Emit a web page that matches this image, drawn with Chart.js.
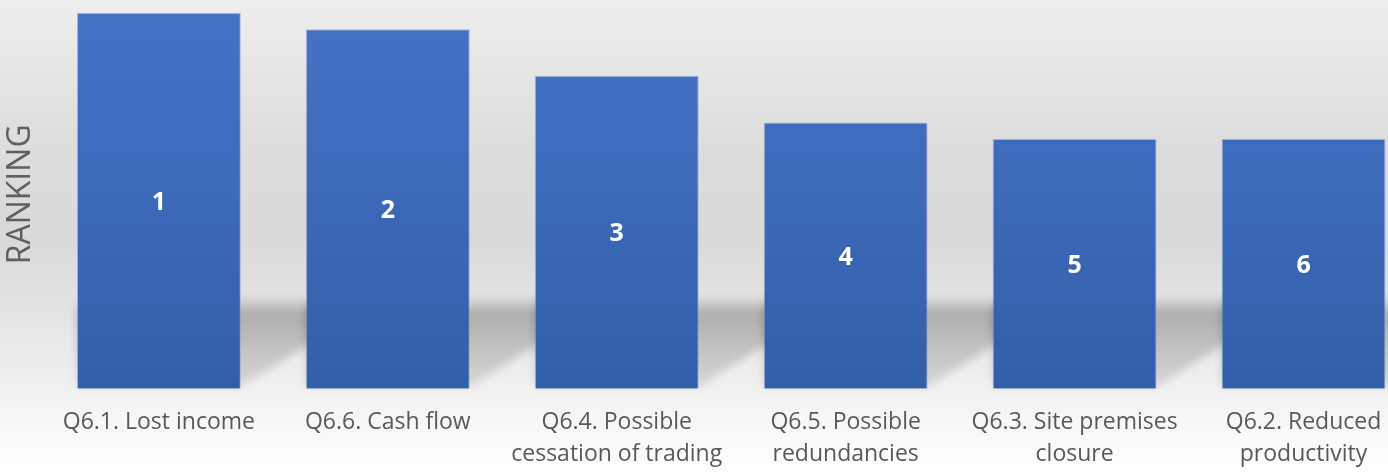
<!DOCTYPE html>
<html>
<head>
<meta charset="utf-8">
<script src="https://cdn.jsdelivr.net/npm/chart.js@4"></script>
<style>
  html, body { margin: 0; padding: 0; overflow: hidden; background: #fff; }
  #wrap { width: 1430px; height: 488px; }
</style>
</head>
<body>
<div id="wrap"><canvas id="rank"></canvas></div>
<script>
const categories = [
  ['Q6.1. Lost income'],
  ['Q6.6. Cash flow'],
  ['Q6.4. Possible', 'cessation of trading'],
  ['Q6.5. Possible', 'redundancies'],
  ['Q6.3. Site premises', 'closure'],
  ['Q6.2. Reduced', 'productivity']
];
const scores = [3.87, 3.70, 3.22, 2.74, 2.57, 2.57];
const ranks = ['1', '2', '3', '4', '5', '6'];

// grey studio backdrop
const backdrop = {
  id: 'backdrop',
  beforeDraw(chart) {
    const { ctx, width } = chart;
    const h = 475;
    const g = ctx.createLinearGradient(0, 0, 0, h);
    g.addColorStop(0, '#eeeeee');
    g.addColorStop(0.3, '#dddddd');
    g.addColorStop(0.5, '#d9d9d9');
    g.addColorStop(0.65, '#e3e3e3');
    g.addColorStop(0.85, '#f4f4f4');
    g.addColorStop(1, '#ffffff');
    ctx.save();
    ctx.fillStyle = g;
    ctx.fillRect(0, 0, width, chart.height);
    ctx.restore();
  }
};

// soft shadow each bar throws to the right
const barShadow = {
  id: 'barShadow',
  beforeDatasetsDraw(chart) {
    const { ctx } = chart;
    const meta = chart.getDatasetMeta(0);
    ctx.save();
    ctx.filter = 'blur(4px)';
    meta.data.forEach(bar => {
      const half = bar.width / 2;
      const left = bar.x - half, right = bar.x + half, base = bar.base;
      const g = ctx.createLinearGradient(0, base - 92, 0, base);
      g.addColorStop(0, 'rgba(0,0,0,0)');
      g.addColorStop(0.18, 'rgba(0,0,0,0.24)');
      g.addColorStop(0.5, 'rgba(0,0,0,0.18)');
      g.addColorStop(1, 'rgba(0,0,0,0.1)');
      ctx.fillStyle = g;
      ctx.beginPath();
      ctx.moveTo(left, base - 92);
      ctx.lineTo(right + 80, base - 92);
      ctx.lineTo(right + 80, base - 52);
      ctx.lineTo(right, base - 2);
      ctx.lineTo(left, base - 2);
      ctx.closePath();
      ctx.fill();
    });
    ctx.restore();
  }
};

// rank number in the middle of each bar
const rankLabels = {
  id: 'rankLabels',
  afterDatasetsDraw(chart) {
    const { ctx } = chart;
    ctx.save();
    ctx.fillStyle = '#ffffff';
    ctx.font = 'bold 25px "Open Sans", sans-serif';
    ctx.textAlign = 'center';
    ctx.textBaseline = 'middle';
    chart.getDatasetMeta(0).data.forEach((bar, i) => {
      ctx.fillText(ranks[i], bar.x, (bar.y + bar.base) / 2 + 2);
    });
    ctx.restore();
  }
};

new Chart(document.getElementById('rank'), {
  type: 'bar',
  data: {
    labels: categories,
    datasets: [{
      data: scores,
      backgroundColor(c) {
        const area = c.chart.chartArea;
        if (!area) return '#4472c4';
        const g = c.chart.ctx.createLinearGradient(0, area.top, 0, area.bottom);
        g.addColorStop(0, '#4574c7');
        g.addColorStop(1, '#335ea9');
        return g;
      },
      borderColor: 'rgba(120,150,210,0.6)',
      borderWidth: 1,
      barPercentage: 0.716,
      categoryPercentage: 1
    }]
  },
  options: {
    responsive: true,
    maintainAspectRatio: false,
    animation: false,
    layout: { padding: { top: 0, right: 12, bottom: 0, left: 0 } },
    plugins: {
      legend: { display: false },
      tooltip: { enabled: false }
    },
    scales: {
      x: {
        grid: { display: false, drawTicks: false },
        border: { display: false },
        ticks: {
          color: '#595959',
          font: { family: 'Open Sans', size: 23, lineHeight: 1.42 },
          padding: 17,
          maxRotation: 0,
          autoSkip: false
        }
      },
      y: {
        min: 0,
        max: 4,
        grid: { display: false, drawTicks: false },
        border: { display: false },
        ticks: { display: false },
        title: {
          display: true,
          text: 'RANKING',
          color: '#5f5f5f',
          font: { family: 'Open Sans', size: 32 },
          padding: { top: 2, bottom: 4 }
        }
      }
    }
  },
  plugins: [backdrop, barShadow, rankLabels]
});
</script>
</body>
</html>
